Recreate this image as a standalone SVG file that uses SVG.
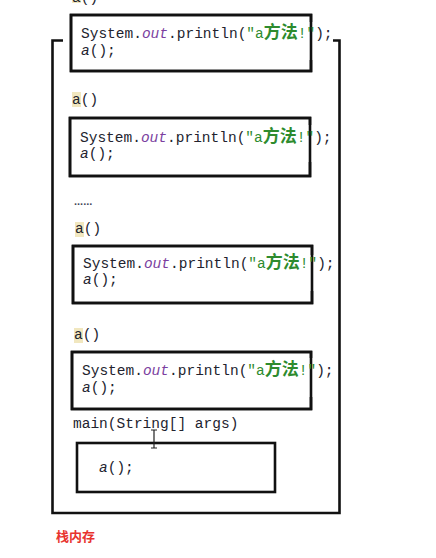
<svg xmlns="http://www.w3.org/2000/svg" width="436" height="558" viewBox="0 0 436 558">
  <style>
    .frame { fill: #ffffff; stroke: #111111; stroke-width: 2.6; }
    .edge { fill: none; stroke: #111111; stroke-width: 2.6; stroke-linecap: butt; stroke-linejoin: miter; }
    .code { font-family: "Liberation Mono", "DejaVu Sans Mono", "Noto Sans CJK SC", monospace; font-size: 14.5px; fill: #22232e; }
    .field { fill: #7b3fa0; font-style: italic; }
    .str { fill: #2e8b2e; }
    .cjk { font-family: "Noto Sans CJK SC", sans-serif; font-size: 17px; font-weight: bold; }
    .call { font-style: italic; }
    .mark { fill: #f1e7bf; }
    .caption { font-family: "Noto Sans CJK SC", sans-serif; font-size: 13px; font-weight: bold; fill: #e8332e; }
  </style>

  <!-- stack memory container -->
  <g id="stack">
    <path class="edge" d="M63,40.5 H52.5 V513 H339.5 V40.5 H333"/>
  </g>

  <!-- partially visible label of the topmost frame -->
  <g id="label-top">
    <rect class="mark" x="72" y="-11" width="9" height="14"/>
    <text class="code" x="72" y="2">a()</text>
  </g>

  <!-- frame 1 -->
  <g id="frame-1">
    <rect class="frame" x="71" y="15" width="240" height="56" stroke="none"/>
    <path class="edge" d="M311,22 V15 H71 V71 H311 V60"/>
    <text class="code" x="81" y="38">System.<tspan class="field">out</tspan>.println(<tspan class="str">"a<tspan class="cjk">方法</tspan>!"</tspan>);</text>
    <text class="code" x="81" y="55"><tspan class="call">a</tspan>();</text>
  </g>

  <!-- frame 2 -->
  <g id="frame-2">
    <rect class="mark" x="72" y="92" width="9" height="15"/>
    <text class="code" x="72" y="104">a()</text>
    <rect class="frame" x="70" y="118" width="240" height="58" stroke="none"/>
    <path class="edge" d="M310,125 V118 H70 V176 H310 V162"/>
    <text class="code" x="80" y="142">System.<tspan class="field">out</tspan>.println(<tspan class="str">"a<tspan class="cjk">方法</tspan>!"</tspan>);</text>
    <text class="code" x="80" y="158"><tspan class="call">a</tspan>();</text>
  </g>

  <!-- elided frames -->
  <g id="ellipsis">
    <text x="74" y="205" font-family="Liberation Sans, sans-serif" font-size="11" font-weight="bold" fill="#44485a">......</text>
  </g>

  <!-- frame 3 -->
  <g id="frame-3">
    <rect class="mark" x="75" y="222" width="9" height="15"/>
    <text class="code" x="75" y="233">a()</text>
    <rect class="frame" x="73" y="246" width="239" height="57" stroke="none"/>
    <path class="edge" d="M312,255 V246 H73 V303 H312 V291"/>
    <text class="code" x="83" y="268">System.<tspan class="field">out</tspan>.println(<tspan class="str">"a<tspan class="cjk">方法</tspan>!"</tspan>);</text>
    <text class="code" x="83" y="284"><tspan class="call">a</tspan>();</text>
  </g>

  <!-- frame 4 -->
  <g id="frame-4">
    <rect class="mark" x="74" y="328" width="9" height="15"/>
    <text class="code" x="74" y="339">a()</text>
    <rect class="frame" x="72" y="352" width="239" height="57" stroke="none"/>
    <path class="edge" d="M311,358 V352 H72 V409 H311 V397"/>
    <text class="code" x="82" y="375">System.<tspan class="field">out</tspan>.println(<tspan class="str">"a<tspan class="cjk">方法</tspan>!"</tspan>);</text>
    <text class="code" x="82" y="392"><tspan class="call">a</tspan>();</text>
  </g>

  <!-- main frame -->
  <g id="frame-main">
    <text class="code" x="73" y="428">main(String[] args)</text>
    <rect class="frame" x="77" y="443" width="198" height="49" stroke-width="3"/>
    <text class="code" x="99" y="472"><tspan class="call">a</tspan>();</text>
  </g>

  <!-- text cursor -->
  <g id="cursor" fill="none" stroke="#222222" stroke-width="1.2">
    <path d="M151,430 H157 M154,430 V448 M151,448 H157"/>
  </g>

  <!-- caption -->
  <g id="caption">
    <text class="caption" x="56" y="541">栈内存</text>
  </g>
</svg>
